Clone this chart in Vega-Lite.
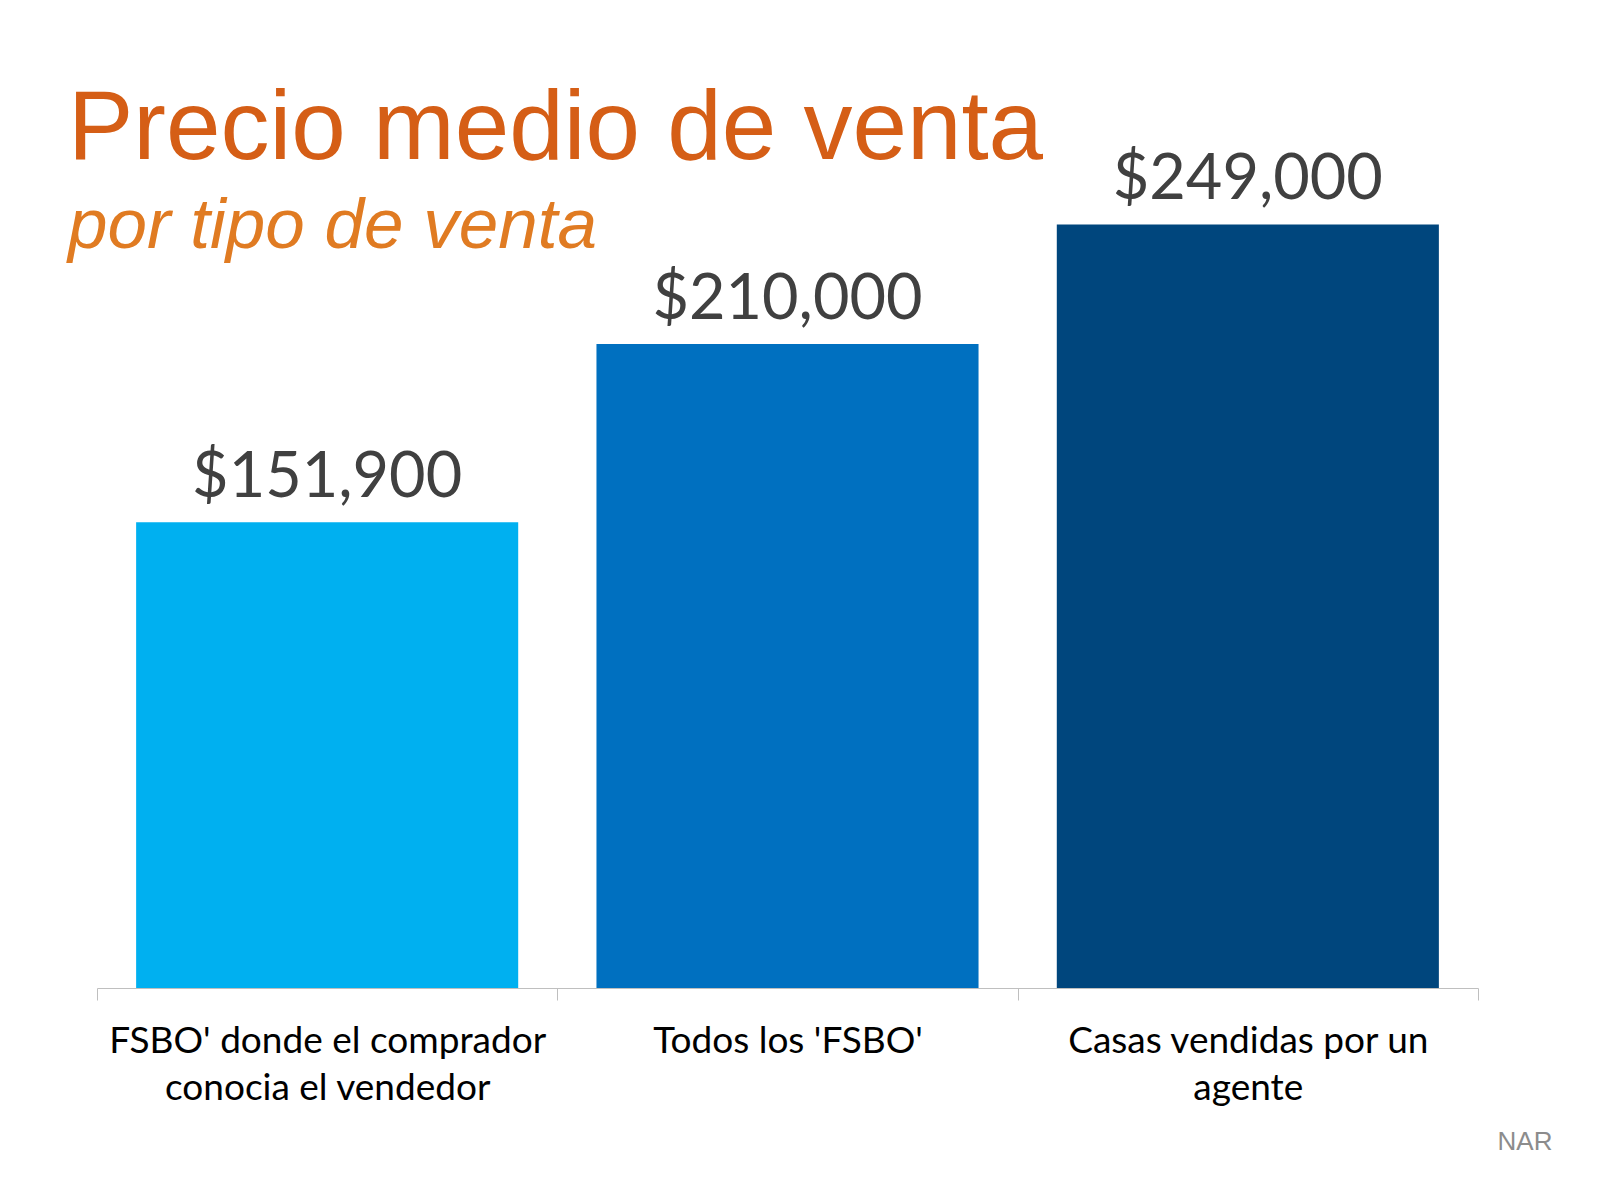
{
  "$schema": "https://vega.github.io/schema/vega-lite/v6.json",
  "width": 1381,
  "height": 920,
  "autosize": "none",
  "padding": {"left": 97, "top": 68, "right": 122, "bottom": 212},
  "background": "white",
  "title": {
    "text": "Precio medio de venta",
    "subtitle": "por tipo de venta",
    "anchor": "start",
    "frame": "group",
    "dx": -29,
    "offset": -195,
    "font": "Liberation Sans",
    "fontSize": 98,
    "fontWeight": "normal",
    "color": "#D55E16",
    "subtitleFont": "Liberation Sans",
    "subtitleFontSize": 71,
    "subtitleFontStyle": "italic",
    "subtitleColor": "#E07B22",
    "subtitlePadding": 12
  },
  "data": {
    "values": [
      {"tipo": "FSBO' donde el comprador\nconocia el vendedor", "precio": 151900},
      {"tipo": "Todos los 'FSBO'", "precio": 210000},
      {"tipo": "Casas vendidas por un\nagente", "precio": 249000}
    ]
  },
  "encoding": {
    "x": {
      "field": "tipo",
      "type": "nominal",
      "sort": null,
      "scale": {"paddingInner": 0, "paddingOuter": 0},
      "axis": {
        "title": "NAR",
        "titleX": 1455,
        "titleY": 161,
        "titleAlign": "right",
        "titleAnchor": "end",
        "titleBaseline": "alphabetic",
        "titleFont": "Liberation Sans",
        "titleFontSize": 26,
        "titleFontWeight": "normal",
        "titleColor": "#8c8c8c",
        "labelExpr": "split(datum.label, '\\n')",
        "labelAngle": 0,
        "labelFont": "Lato",
        "labelFontSize": 37,
        "labelColor": "#000000",
        "labelBaseline": "top",
        "labelLineHeight": 47,
        "labelPadding": 23,
        "labelLimit": 600,
        "tickBand": "extent",
        "tickSize": 12,
        "tickColor": "#bfbfbf",
        "domainColor": "#bfbfbf",
        "grid": false
      }
    },
    "y": {
      "field": "precio",
      "type": "quantitative",
      "scale": {"domain": [0, 300000], "nice": false},
      "axis": null
    }
  },
  "layer": [
    {
      "mark": {"type": "bar", "width": {"band": 0.83}},
      "encoding": {
        "color": {
          "field": "tipo",
          "type": "nominal",
          "scale": {
            "domain": [
              "FSBO' donde el comprador\nconocia el vendedor",
              "Todos los 'FSBO'",
              "Casas vendidas por un\nagente"
            ],
            "range": ["#00B0F0", "#0070C0", "#00467D"]
          },
          "legend": null
        }
      }
    },
    {
      "mark": {
        "type": "text",
        "baseline": "alphabetic",
        "dy": -25,
        "font": "Lato",
        "fontSize": 63,
        "color": "#404040"
      },
      "encoding": {
        "text": {"field": "precio", "type": "quantitative", "format": "$,.0f"}
      }
    }
  ],
  "config": {
    "view": {"stroke": null}
  }
}
